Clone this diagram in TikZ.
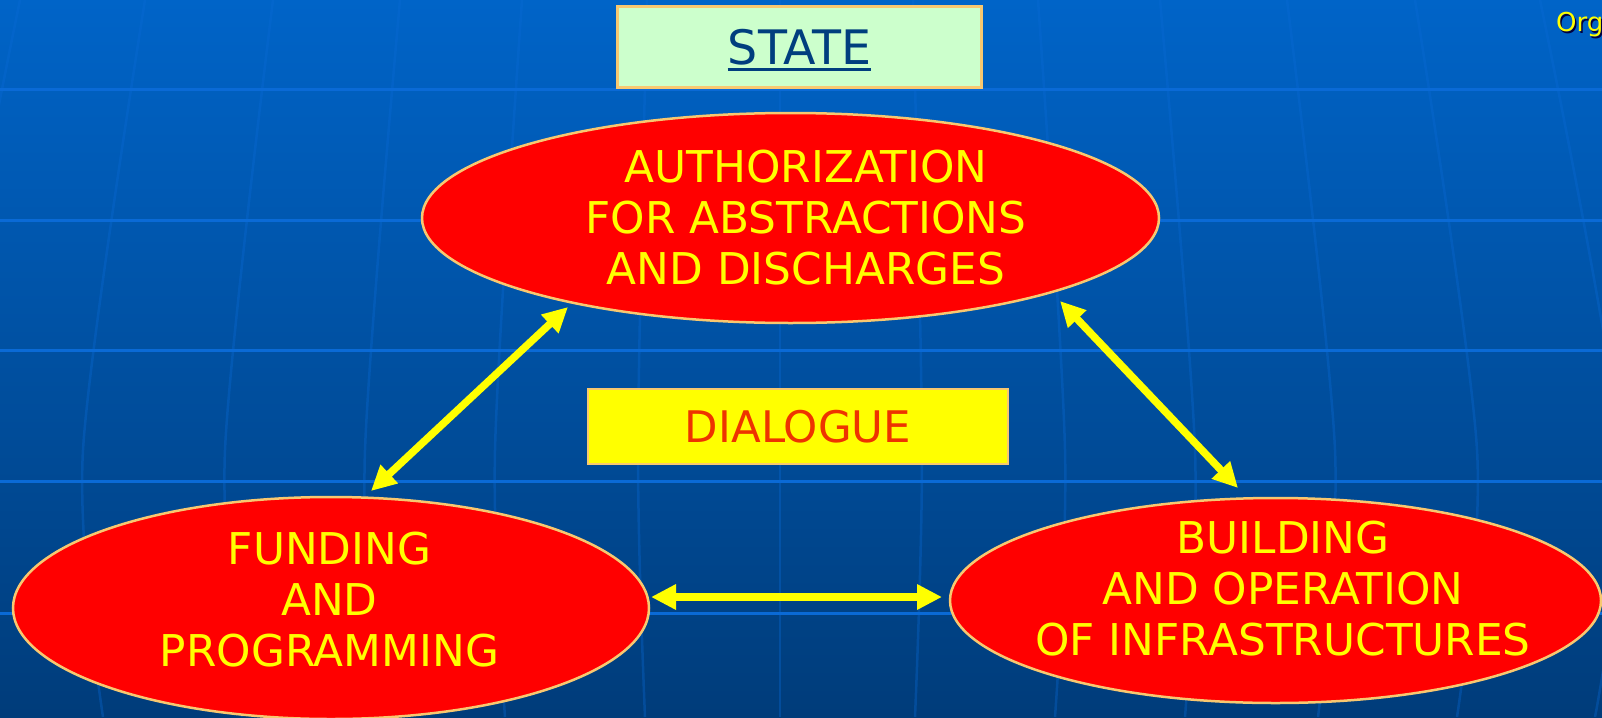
\documentclass[tikz,border=0pt]{standalone}
\usepackage{fontspec}
\setmainfont{DejaVu Sans}
\usetikzlibrary{shapes.geometric,arrows.meta}
\definecolor{bgtop}{HTML}{0064C8}
\definecolor{bgbot}{HTML}{003C7A}
\definecolor{gridc}{HTML}{0A6AD6}
\definecolor{edgec}{HTML}{F8C870}
\definecolor{statefill}{HTML}{CCFFCC}
\definecolor{statetext}{HTML}{003E7E}
\definecolor{dlgtext}{HTML}{EE3300}
\definecolor{ylw}{HTML}{FFFF00}
\begin{document}
\begin{tikzpicture}[x=1pt,y=-1pt,
  oval/.style={ellipse, draw=edgec, line width=2.5pt, fill=red, inner sep=0pt},
  lbl/.style={text=ylw, align=center, font=\fontsize{43.8}{51}\selectfont, inner sep=0pt},
  dbl/.style={draw=ylw, line width=7.5pt, {Triangle[length=25pt,width=24pt]}-{Triangle[length=25pt,width=24pt]}},
  hline/.style={draw=gridc, line width=3pt},
  meridian/.style={draw=gridc, line width=2.5pt, opacity=0.35},
]
\useasboundingbox (0,0) rectangle (1602,717);
\shade[top color=bgtop, bottom color=bgbot] (0,0) rectangle (1602,717);
% globe meridians
\draw[meridian] (780,0) -- (780,717);
\foreach \t/\m/\b in {133/142/135, 258/285/275, 380/415/405, 507/555/538, 635/697/677, 760/840/815}{
  \draw[meridian] plot[smooth] coordinates {(780+\t,0) (780+\m,450) (780+\b,717)};
  \draw[meridian] plot[smooth] coordinates {(780-\t,0) (780-\m,450) (780-\b,717)};
}
% parallels
\foreach \y in {89,220,350,481,613}{
  \draw[hline] (0,\y) -- (1602,\y);
}
% state box
\node[draw=edgec, line width=3pt, fill=statefill, minimum width=364pt, minimum height=80pt] (state) at (799,47) {};
\node[inner sep=0pt, text=statetext, font=\fontsize{47.5}{55}\selectfont] (stateT) at (799.5,47) {STATE};
\draw[statetext, line width=3pt] ([yshift=-5.5pt]stateT.base west) -- ([yshift=-5.5pt]stateT.base east);
% ellipses
\node[oval, minimum width=737pt, minimum height=210pt] (auth) at (790.5,218) {};
\node[oval, minimum width=636pt, minimum height=222pt] (fund) at (331,608) {};
\node[oval, minimum width=651pt, minimum height=205pt] (build) at (1275.5,600.5) {};
\node[lbl] (authT) at (806,217.6) {AUTHORIZATION\\FOR ABSTRACTIONS\\AND DISCHARGES};
\node[lbl] (fundT) at (329.5,600) {FUNDING\\AND\\PROGRAMMING};
\node[lbl] (buildT) at (1283,588.5) {BUILDING\\AND OPERATION\\OF INFRASTRUCTURES};
% dialogue
\node[draw=edgec, line width=2.5pt, fill=ylw, minimum width=420pt, minimum height=75pt, text=dlgtext, font=\fontsize{43.5}{50}\selectfont] (dlg) at (798,426.5) {DIALOGUE};
% arrows
\coordinate (a1) at (568,307); \coordinate (a2) at (371,491);
\coordinate (b1) at (1060,301); \coordinate (b2) at (1238,488);
\coordinate (c1) at (651,597); \coordinate (c2) at (942,597);
\draw[dbl] (a1) -- (a2);
\draw[dbl] (b1) -- (b2);
\draw[dbl] (c1) -- (c2);
% corner text
\node[anchor=base west, inner sep=0pt, font=\fontsize{26}{30}\selectfont, text=black!75!blue] (orgS) at (1557.5,33.5) {Org};
\node[anchor=base west, inner sep=0pt, font=\fontsize{26}{30}\selectfont, text=ylw] (org) at (1556,32) {Org};
\end{tikzpicture}
\end{document}
